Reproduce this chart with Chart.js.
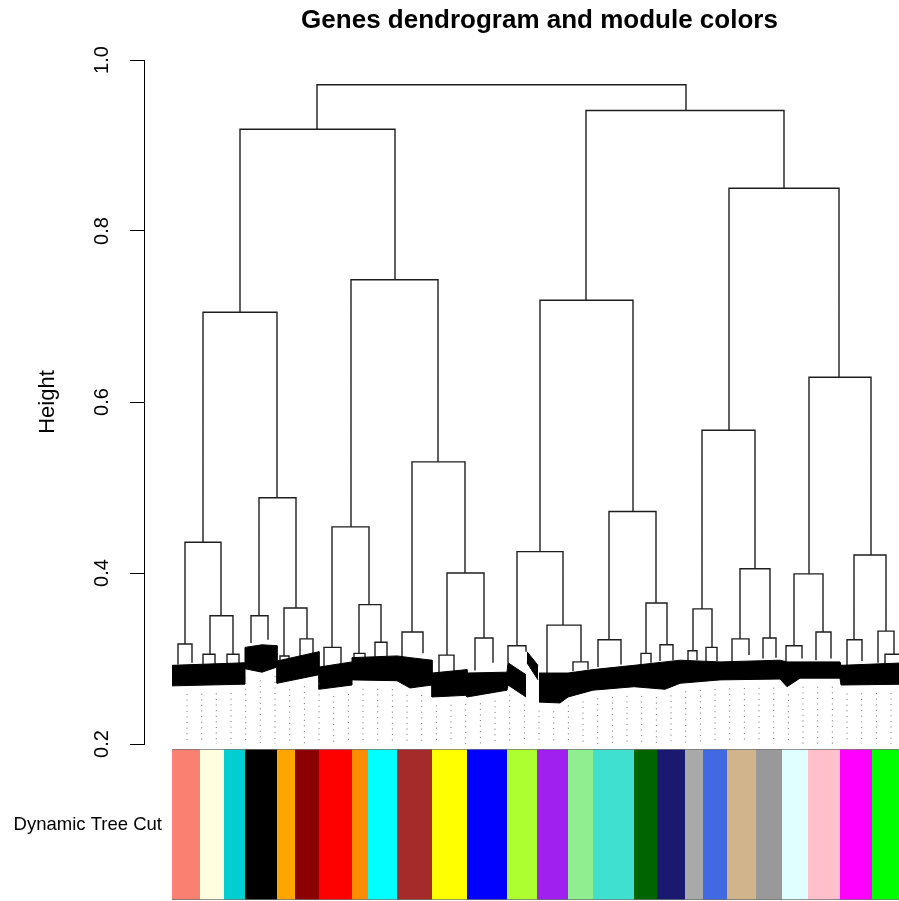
<!DOCTYPE html>
<html>
<head>
<meta charset="utf-8">
<title>Genes dendrogram and module colors</title>
<script src="https://cdn.jsdelivr.net/npm/chart.js@4.4.1/dist/chart.umd.min.js"></script>
<style>
  html, body { margin: 0; padding: 0; background: #fff; overflow: hidden; }
  #wrap { position: relative; width: 899px; height: 901px; overflow: hidden; }
  canvas { display: block; position: absolute; left: 0; }
  #dendro { top: 0; }
  #colors { top: 748px; }
</style>
</head>
<body>
<div id="wrap">
  <canvas id="dendro" width="935" height="772"></canvas>
  <canvas id="colors" width="935" height="153"></canvas>
</div>
<script>
// Gene order runs 0..735 along x; heights are 1 - TOM dissimilarity on y.

// Branch links: [left child x, left child height, right child x, right child height, merge height]
const merges = [
  [145, 0.919, 514, 0.941, 0.971],
  [68, 0.705, 223, 0.743, 0.919],
  [414, 0.719, 612, 0.850, 0.941],
  [557, 0.567, 667, 0.629, 0.850],
  [31, 0.436, 105, 0.488, 0.705],
  [13, 0.317, 49, 0.350, 0.436],
  [6, 0.293, 20, 0.295, 0.317],
  [38, 0.305, 61, 0.305, 0.350],
  [31, 0.293, 43, 0.293, 0.305],
  [55, 0.293, 67, 0.294, 0.305],
  [87, 0.350, 124, 0.359, 0.488],
  [79, 0.318, 96, 0.322, 0.350],
  [112, 0.303, 135, 0.323, 0.359],
  [108, 0.297, 117, 0.298, 0.303],
  [128, 0.300, 141, 0.303, 0.323],
  [179, 0.454, 266, 0.530, 0.743],
  [160, 0.313, 197, 0.363, 0.454],
  [152, 0.290, 169, 0.292, 0.313],
  [187, 0.306, 209, 0.319, 0.363],
  [182, 0.298, 193, 0.300, 0.306],
  [203, 0.302, 215, 0.303, 0.319],
  [240, 0.331, 293, 0.400, 0.530],
  [230, 0.298, 251, 0.306, 0.331],
  [275, 0.304, 312, 0.324, 0.400],
  [267, 0.283, 282, 0.285, 0.304],
  [303, 0.286, 321, 0.295, 0.324],
  [368, 0.425, 461, 0.472, 0.719],
  [345, 0.315, 391, 0.339, 0.425],
  [336, 0.295, 354, 0.308, 0.315],
  [375, 0.283, 409, 0.296, 0.339],
  [401, 0.285, 416, 0.287, 0.296],
  [437, 0.322, 484, 0.365, 0.472],
  [426, 0.290, 449, 0.293, 0.322],
  [474, 0.306, 495, 0.316, 0.365],
  [469, 0.293, 479, 0.295, 0.306],
  [488, 0.297, 501, 0.298, 0.316],
  [530, 0.358, 583, 0.405, 0.567],
  [521, 0.309, 540, 0.313, 0.358],
  [516, 0.297, 525, 0.298, 0.309],
  [534, 0.296, 545, 0.297, 0.313],
  [568, 0.323, 598, 0.324, 0.405],
  [560, 0.297, 577, 0.304, 0.323],
  [591, 0.300, 604, 0.301, 0.324],
  [637, 0.399, 699, 0.421, 0.629],
  [622, 0.315, 651, 0.331, 0.399],
  [614, 0.296, 630, 0.300, 0.315],
  [644, 0.298, 659, 0.300, 0.331],
  [682, 0.322, 714, 0.332, 0.421],
  [675, 0.292, 690, 0.297, 0.322],
  [706, 0.295, 722, 0.305, 0.332],
  [713, 0.294, 731, 0.296, 0.305]
];

// Dense leaf mass under the tree (top and bottom edge), null = break
const leafX      = [0, 73, 73, 90, 105, 105, 147, 147, 180, 180, 225, 238, 260, 260, 295, 295, 335, 336, 354, 354.5, 355, 366, 366.5, 367, 388, 396, 421, 462, 493, 508, 548, 608, 615, 628, 668, 669, 735];
const leafTop    = [0.292, 0.295, 0.313, 0.316, 0.315, 0.297, 0.308, 0.290, 0.296, 0.301, 0.303, 0.301, 0.298, 0.283, 0.287, 0.283, 0.284, 0.295, 0.281, null, 0.308, 0.292, null, 0.283, 0.283, 0.283, 0.287, 0.292, 0.296, 0.298, 0.296, 0.298, 0.296, 0.296, 0.296, 0.292, 0.295];
const leafBottom = [0.268, 0.270, 0.288, 0.284, 0.290, 0.271, 0.281, 0.264, 0.269, 0.275, 0.274, 0.2655, 0.269, 0.255, 0.257, 0.255, 0.263, 0.269, 0.255, null, 0.295, 0.275, null, 0.249, 0.248, 0.255, 0.263, 0.267, 0.264, 0.271, 0.275, 0.276, 0.267, 0.277, 0.277, 0.269, 0.270];

// Dotted guide lines (addGuide)
const guideX = [15, 29.7, 44.3, 59, 73.7, 88.3, 103, 117.7, 132.4, 147, 161.7, 176.4, 191, 205.7, 220.4, 235, 249.7, 264.4, 279, 293.7,
  308.4, 323, 337.7, 352.4, 367, 381.7, 396.4, 411, 425.7, 440.4, 455, 469.7, 484.4, 499, 513.7, 528.4, 543, 557.7, 572.4, 587,
  601.7, 616.4, 631, 645.7, 660.4, 675, 689.7, 704.4, 719, 733.7];

// Module colours (Dynamic Tree Cut) and their edges along the gene order
const moduleNames = ["salmon", "lightyellow", "darkturquoise", "black", "orange", "darkred", "red", "darkorange", "cyan", "brown",
  "yellow", "blue", "greenyellow", "purple", "lightgreen", "turquoise", "darkgreen", "midnightblue", "darkgrey", "royalblue",
  "tan", "grey60", "lightcyan", "pink", "magenta", "green"];
const moduleHex = ["#FA8072", "#FFFFE0", "#00CED1", "#000000", "#FFA500", "#8B0000", "#FF0000", "#FF8C00", "#00FFFF", "#A52A2A",
  "#FFFF00", "#0000FF", "#ADFF2F", "#A020F0", "#90EE90", "#40E0D0", "#006400", "#191970", "#A9A9A9", "#4169E1",
  "#D2B48C", "#999999", "#E0FFFF", "#FFC0CB", "#FF00FF", "#00FF00"];
const moduleEdges = [0, 28, 52, 73, 105, 123, 147, 180, 196, 225, 260, 295, 335, 365, 396, 421, 462, 485, 513, 531, 555, 584, 610, 636, 668, 700, 735];

const yTicks = [0.2, 0.4, 0.6, 0.8, 1.0];

Chart.defaults.font.family = '"Liberation Sans", Arial, sans-serif';
Chart.defaults.color = "#000";

// linear lookup along the leaf band, skipping breaks
function bandAt(xs, ys, x) {
  for (let i = 0; i < xs.length - 1; i++) {
    if (ys[i] == null || ys[i + 1] == null) continue;
    if (x >= xs[i] && x <= xs[i + 1]) {
      if (xs[i + 1] === xs[i]) return Math.min(ys[i], ys[i + 1]);
      const t = (x - xs[i]) / (xs[i + 1] - xs[i]);
      return ys[i] + t * (ys[i + 1] - ys[i]);
    }
  }
  return 0.27;
}

// the rotated tick labels / category label must not shrink the plot
function fixedWidth(w) {
  return (scale) => {
    scale.width = w;
    scale.paddingTop = 0;
    scale.paddingBottom = 0;
  };
}

const linkPoints = [];
merges.forEach(([xl, hl, xr, hr, h]) => {
  linkPoints.push({ x: xl, y: hl }, { x: xl, y: h }, { x: xr, y: h }, { x: xr, y: hr }, { x: xr, y: null });
});

const topPoints = leafX.map((x, i) => ({ x: x, y: leafTop[i] }));
const bottomPoints = leafX.map((x, i) => ({ x: x, y: leafBottom[i] }));

const guidePoints = [];
guideX.forEach((x) => {
  guidePoints.push({ x: x, y: bandAt(leafX, leafBottom, x) - 0.01 }, { x: x, y: yTicks[0] }, { x: x, y: null });
});

new Chart(document.getElementById("dendro"), {
  type: "scatter",
  data: {
    datasets: [
      { label: "guide", data: guidePoints, showLine: true, spanGaps: false, borderColor: "#707070", borderWidth: 1, borderDash: [1, 4.6], pointRadius: 0 },
      { label: "leaves top", data: topPoints, showLine: true, spanGaps: false, borderColor: "#000", backgroundColor: "#000", borderWidth: 1, pointRadius: 0, fill: false },
      { label: "leaves", data: bottomPoints, showLine: true, spanGaps: false, borderColor: "#000", backgroundColor: "#000", borderWidth: 1, pointRadius: 0, fill: "-1" },
      { label: "branches", data: linkPoints, showLine: true, spanGaps: false, borderColor: "#1e1e1e", borderWidth: 1.4, pointRadius: 0 }
    ]
  },
  options: {
    responsive: false,
    animation: false,
    layout: { padding: { top: 0, bottom: 28, left: 0, right: 0 } },
    plugins: {
      legend: { display: false },
      tooltip: { enabled: false },
      title: {
        display: true,
        text: "Genes dendrogram and module colors",
        fullSize: false,
        color: "#000",
        font: { size: 26, weight: "bold" },
        padding: { top: 5, bottom: 23.8 }
      }
    },
    scales: {
      x: { type: "linear", min: -28, max: 763, display: false },
      y: {
        min: yTicks[0],
        max: yTicks[yTicks.length - 1],
        afterFit: fixedWidth(144),
        afterBuildTicks: (scale) => { scale.ticks = yTicks.map((v) => ({ value: v })); },
        ticks: {
          minRotation: 90,
          maxRotation: 90,
          crossAlign: "center",
          padding: 14,
          color: "#000",
          font: { size: 20 },
          callback: (v) => Number(v).toFixed(1)
        },
        grid: { drawOnChartArea: false, drawTicks: true, tickLength: 14, color: "#000", lineWidth: 1 },
        border: { display: true, color: "#000", width: 1 },
        title: { display: true, text: "Height", color: "#000", font: { size: 22 }, padding: { top: 35, bottom: 0 } }
      }
    }
  }
});

new Chart(document.getElementById("colors"), {
  type: "bar",
  data: {
    labels: ["Dynamic Tree Cut"],
    datasets: moduleNames.map((name, i) => ({
      label: name,
      data: [[moduleEdges[i], moduleEdges[i + 1]]],
      backgroundColor: moduleHex[i],
      borderColor: "rgba(0,0,0,0.55)",
      borderWidth: { top: 1, bottom: 1, left: 0, right: 0 },
      borderSkipped: false,
      grouped: false,
      barPercentage: 1,
      categoryPercentage: 1
    }))
  },
  options: {
    indexAxis: "y",
    responsive: false,
    animation: false,
    layout: { padding: { top: 1, bottom: 1, left: 0, right: 0 } },
    plugins: { legend: { display: false }, tooltip: { enabled: false } },
    scales: {
      x: { type: "linear", min: 0, max: 763, display: false },
      y: {
        afterFit: fixedWidth(172),
        grid: { display: false, drawTicks: false },
        border: { display: false },
        ticks: { color: "#000", font: { size: 18.5 }, padding: 10 }
      }
    }
  }
});
</script>
</body>
</html>
